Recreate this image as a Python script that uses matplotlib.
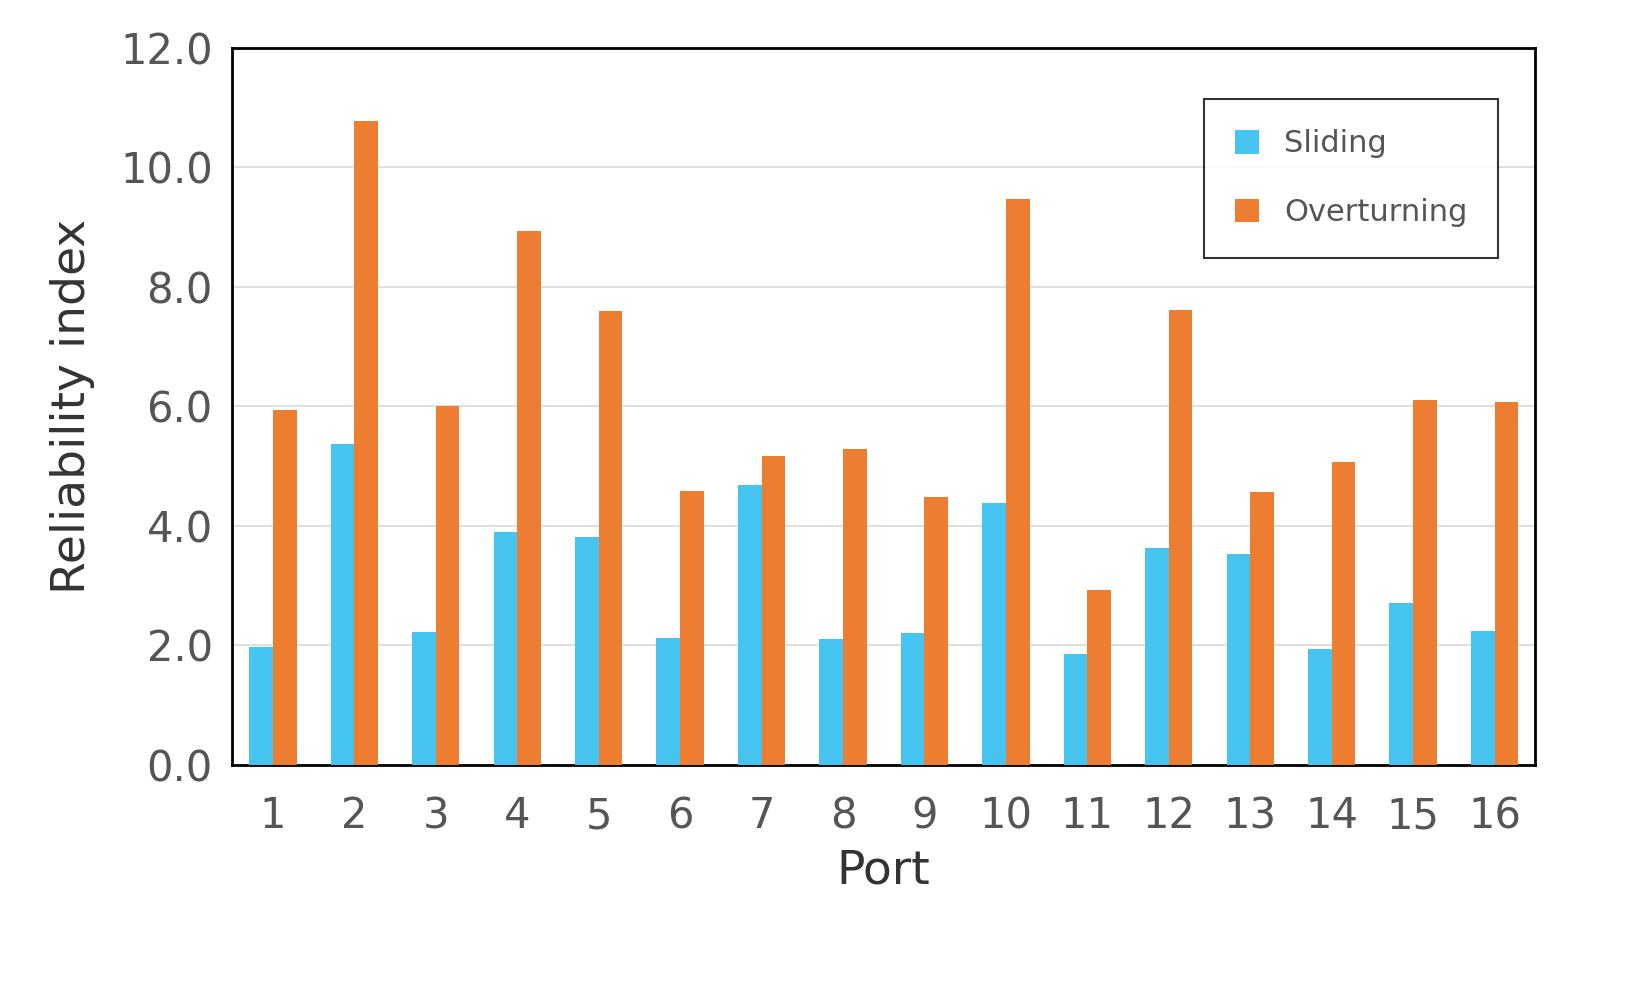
import matplotlib
matplotlib.use("Agg")
import matplotlib.pyplot as plt
import numpy as np

ports = [str(i) for i in range(1, 17)]
sliding = [1.97, 5.37, 2.23, 3.90, 3.82, 2.13, 4.69, 2.11, 2.21, 4.38, 1.86, 3.63, 3.53, 1.94, 2.71, 2.24]
overturning = [5.94, 10.78, 6.01, 8.94, 7.60, 4.59, 5.17, 5.29, 4.49, 9.47, 2.93, 7.62, 4.57, 5.07, 6.11, 6.08]

fig = plt.figure(figsize=(16.35, 9.96), dpi=100)
ax = fig.add_axes([0.142, 0.232, 0.797, 0.720])
x = np.arange(len(ports))
w = 0.29
ax.bar(x - w/2, sliding, w, color="#45C4F0", label="Sliding", zorder=3)
ax.bar(x + w/2, overturning, w, color="#ED7D31", label="Overturning", zorder=3)
ax.set_xlim(-0.5, len(ports) - 0.5)
ax.set_ylim(0, 12)
ax.set_yticks(np.arange(0, 12.1, 2))
ax.set_yticklabels([f"{v:.1f}" for v in np.arange(0, 12.1, 2)])
ax.set_xticks(x)
ax.set_xticklabels(ports)
ax.yaxis.grid(True, color="#D9D9D9", linewidth=1.2, zorder=0)
for s in ax.spines.values():
    s.set_linewidth(2)
    s.set_color("black")
ax.tick_params(length=0, labelsize=30, colors="#555555", pad=14)
ax.tick_params(axis="x", pad=22)
ax.set_xlabel("Port", fontsize=34, color="#333333", labelpad=8)
ax.set_ylabel("Reliability index", fontsize=34, color="#333333", labelpad=18)
leg = ax.legend(loc="upper right", bbox_to_anchor=(0.983, 0.95), fontsize=22, frameon=True,
                fancybox=False, edgecolor="black", handlelength=0.8, handleheight=0.8,
                labelspacing=1.3, borderpad=1.0, labelcolor="#555555")
leg.get_frame().set_linewidth(1.5)
fig.savefig("out.png", dpi=100)
